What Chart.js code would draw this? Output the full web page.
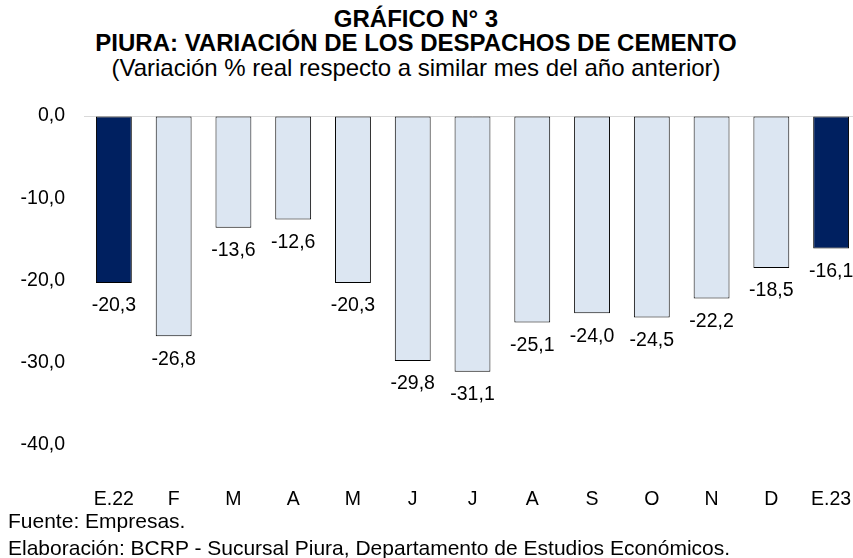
<!DOCTYPE html>
<html lang="es">
<head>
<meta charset="utf-8">
<title>Piura: variación de los despachos de cemento</title>
<script src="https://cdn.jsdelivr.net/npm/chart.js@4.4.1/dist/chart.umd.min.js"></script>
<style>
    html, body { margin: 0; padding: 0; overflow: hidden; background: #ffffff; }
    body { width: 853px; height: 558px; position: relative; font-family: "Liberation Sans", Arial, sans-serif; color: #000; }
    .titulo { position: absolute; left: 0; width: 832px; text-align: center; font-size: 24px; line-height: 26px; white-space: nowrap; }
    .negrita { font-weight: bold; }
    .nota { position: absolute; left: 8px; font-size: 21px; line-height: 24px; white-space: nowrap; }
    #wrap { position: absolute; left: 0; top: 0; width: 861px; height: 558px; }
</style>
</head>
<body>
<div class="titulo negrita" style="top: 6px;">GRÁFICO N° 3</div>
<div class="titulo negrita" style="top: 30px;">PIURA: VARIACIÓN DE LOS DESPACHOS DE CEMENTO</div>
<div class="titulo" style="top: 55px;">(Variación % real respecto a similar mes del año anterior)</div>
<div id="wrap"><canvas id="grafico"></canvas></div>
<div class="nota" style="top: 509px;">Fuente: Empresas.</div>
<div class="nota" style="top: 536px;">Elaboración: BCRP - Sucursal Piura, Departamento de Estudios Económicos.</div>

<script>
// datos
const categories = ["E.22", "F", "M", "A", "M", "J", "J", "A", "S", "O", "N", "D", "E.23"];
const variacion = [-20.3, -26.8, -13.6, -12.6, -20.3, -29.8, -31.1, -25.1, -24.0, -24.5, -22.2, -18.5, -16.1];
const yTicks = [0, -10, -20, -30, -40];

const AZUL = "#002060";
const CELESTE = "#dce6f2";

function formato(v) {
    return v.toFixed(1).replace(".", ",");
}

// etiquetas de valor debajo de cada barra
const etiquetasPlugin = {
    id: "etiquetas",
    afterDatasetsDraw(chart) {
        const ctx = chart.ctx;
        const meta = chart.getDatasetMeta(0);
        ctx.save();
        ctx.font = "19.5px 'Liberation Sans', Arial, sans-serif";
        ctx.fillStyle = "#000";
        ctx.textAlign = "center";
        ctx.textBaseline = "middle";
        meta.data.forEach((bar, i) => {
            ctx.fillText(formato(variacion[i]), bar.x, bar.y + 23);
        });
        ctx.restore();
    }
};

Chart.defaults.font.family = "'Liberation Sans', Arial, sans-serif";
Chart.defaults.color = "#000";

new Chart(document.getElementById("grafico"), {
    type: "bar",
    data: {
        labels: categories,
        datasets: [{
            data: variacion,
            backgroundColor: ctx => categories[ctx.dataIndex].startsWith("E.") ? AZUL : CELESTE,
            borderColor: "#000",
            borderWidth: 1,
            borderSkipped: false,
            categoryPercentage: 1,
            barPercentage: 0.6
        }]
    },
    options: {
        responsive: true,
        maintainAspectRatio: false,
        animation: false,
        layout: { padding: { top: 116, left: 0, right: 0, bottom: 42 } },
        plugins: {
            legend: { display: false },
            tooltip: { enabled: false }
        },
        scales: {
            x: {
                grid: { display: false, drawTicks: false },
                border: { display: false },
                ticks: { font: { size: 19.5 }, padding: 2, maxRotation: 0, autoSkip: false },
                afterFit: scale => { scale.height = 30; }
            },
            y: {
                min: -45,
                max: 0,
                afterBuildTicks: scale => { scale.ticks = yTicks.map(v => ({ value: v })); },
                grid: {
                    drawTicks: false,
                    color: ctx => ctx.tick && ctx.tick.value === 0 ? "#d9d9d9" : "rgba(0,0,0,0)"
                },
                border: { display: false },
                ticks: { font: { size: 19.5 }, padding: 19, callback: v => formato(v) },
                afterFit: scale => { scale.width = 84; }
            }
        }
    },
    plugins: [etiquetasPlugin]
});
</script>
</body>
</html>
